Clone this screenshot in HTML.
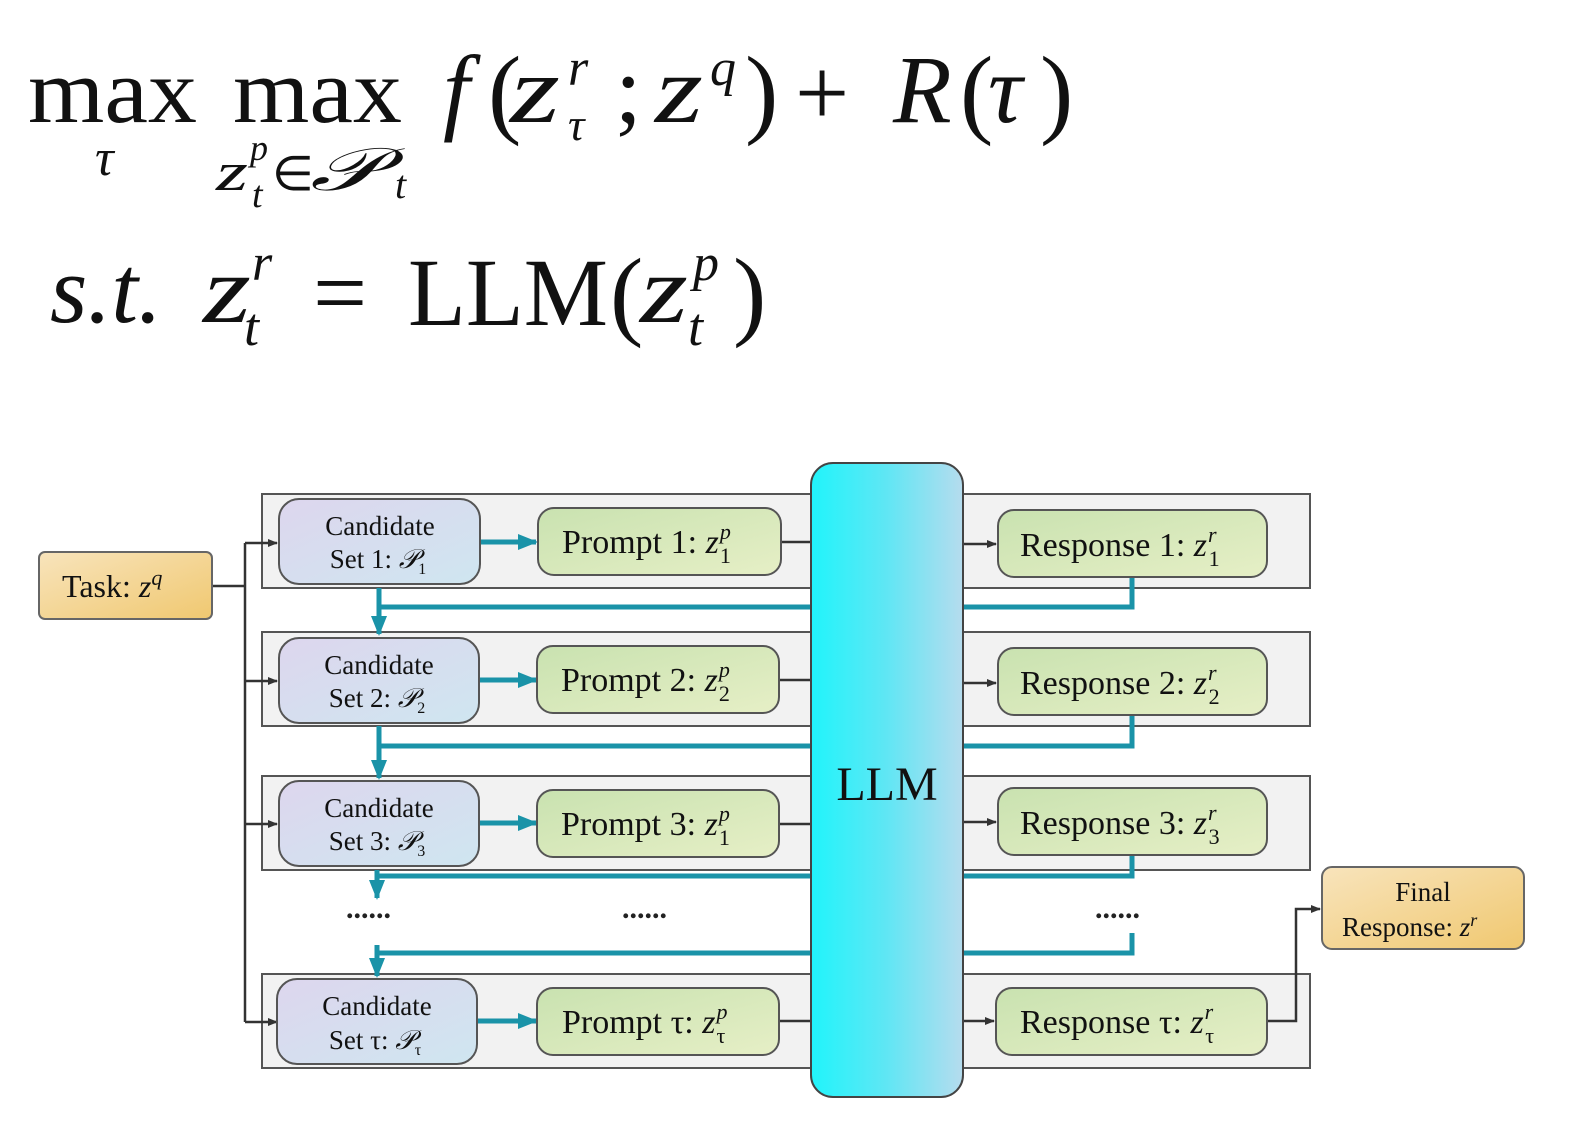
<!DOCTYPE html>
<html><head><meta charset="utf-8"><style>
html,body{margin:0;padding:0;background:#fff;}
svg{display:block;}
</style></head><body>
<svg width="1586" height="1130" viewBox="0 0 1586 1130" xmlns="http://www.w3.org/2000/svg" font-family="Liberation Serif, serif">
<defs>
<linearGradient id="cand" x1="0" y1="0" x2="1" y2="1"><stop offset="0" stop-color="#ddd6ee"/><stop offset="1" stop-color="#cfe6f0"/></linearGradient>
<linearGradient id="pr" x1="0" y1="0" x2="1" y2="1"><stop offset="0" stop-color="#c9e2b0"/><stop offset="1" stop-color="#e6efc6"/></linearGradient>
<linearGradient id="task" x1="0" y1="0" x2="1" y2="1"><stop offset="0" stop-color="#f8e4bc"/><stop offset="1" stop-color="#f0c870"/></linearGradient>
<linearGradient id="llm" x1="0" y1="0" x2="1" y2="0"><stop offset="0" stop-color="#20f4fb"/><stop offset="0.5" stop-color="#60e6f4"/><stop offset="1" stop-color="#b6dcee"/></linearGradient>
<marker id="ak" markerWidth="10" markerHeight="8" refX="9" refY="4" orient="auto" markerUnits="userSpaceOnUse"><path d="M0,0 L10,4 L0,8 z" fill="#333"/></marker>
<marker id="at" markerWidth="20" markerHeight="16" refX="18" refY="8" orient="auto" markerUnits="userSpaceOnUse"><path d="M0,0 L20,8 L0,16 z" fill="#1a93a8"/></marker>
</defs>

<!-- formulas -->
<g fill="#111">
<text x="28" y="122" font-size="92" textLength="169" lengthAdjust="spacingAndGlyphs">max</text>
<text x="233" y="122" font-size="92" textLength="169" lengthAdjust="spacingAndGlyphs">max</text>
<text x="95" y="175" font-size="52" font-style="italic">τ</text>
<text x="216" y="190" font-size="54" font-style="italic" textLength="32" lengthAdjust="spacingAndGlyphs">z</text>
<text x="250" y="160" font-size="36" font-style="italic">p</text>
<text x="252" y="207" font-size="38" font-style="italic">t</text>
<text x="272" y="190" font-size="48">∈</text>
<text x="310" y="190" font-size="60" font-style="italic" textLength="70" lengthAdjust="spacingAndGlyphs">𝒫</text>
<text x="395" y="198" font-size="40" font-style="italic">t</text>
<text x="443" y="122" font-size="96" font-style="italic">f</text>
<text x="488" y="125" font-size="100">(</text>
<text x="510" y="122" font-size="96" font-style="italic" textLength="50" lengthAdjust="spacingAndGlyphs">z</text>
<text x="568" y="85" font-size="52" font-style="italic">r</text>
<text x="568" y="140" font-size="46" font-style="italic">τ</text>
<text x="615" y="122" font-size="96">;</text>
<text x="655" y="122" font-size="96" font-style="italic" textLength="48" lengthAdjust="spacingAndGlyphs">z</text>
<text x="710" y="85" font-size="52" font-style="italic">q</text>
<text x="745" y="125" font-size="100">)</text>
<text x="795" y="125" font-size="96">+</text>
<text x="893" y="122" font-size="96" font-style="italic">R</text>
<text x="960" y="125" font-size="100">(</text>
<text x="988" y="122" font-size="96" font-style="italic">τ</text>
<text x="1040" y="125" font-size="100">)</text>

<text x="50" y="322" font-size="96" font-style="italic">s.t.</text>
<text x="203" y="322" font-size="96" font-style="italic" textLength="48" lengthAdjust="spacingAndGlyphs">z</text>
<text x="252" y="280" font-size="52" font-style="italic">r</text>
<text x="244" y="345" font-size="54" font-style="italic">t</text>
<text x="313" y="325" font-size="96">=</text>
<text x="408" y="325" font-size="96" textLength="200" lengthAdjust="spacingAndGlyphs">LLM</text>
<text x="610" y="327" font-size="100">(</text>
<text x="640" y="322" font-size="96" font-style="italic" textLength="48" lengthAdjust="spacingAndGlyphs">z</text>
<text x="693" y="280" font-size="52" font-style="italic">p</text>
<text x="688" y="345" font-size="54" font-style="italic">t</text>
<text x="733" y="327" font-size="100">)</text>
</g>

<!-- row panels -->
<g fill="#f2f2f2" stroke="#555" stroke-width="2">
<rect x="262" y="494" width="1048" height="94"/>
<rect x="262" y="632" width="1048" height="94"/>
<rect x="262" y="776" width="1048" height="94"/>
<rect x="262" y="974" width="1048" height="94"/>
</g>

<!-- black connectors -->
<g stroke="#333" stroke-width="2.5" fill="none">
<path d="M212,586 H245"/>
<path d="M245,543 V1022"/>
<path d="M245,543 H277" marker-end="url(#ak)"/>
<path d="M245,681 H277" marker-end="url(#ak)"/>
<path d="M245,824 H277" marker-end="url(#ak)"/>
<path d="M245,1022 H277" marker-end="url(#ak)"/>
<path d="M781,542 H811"/><path d="M779,680 H811"/><path d="M779,824 H811"/><path d="M779,1021 H811"/>
<path d="M963,544 H996" marker-end="url(#ak)"/>
<path d="M963,683 H996" marker-end="url(#ak)"/>
<path d="M963,822 H996" marker-end="url(#ak)"/>
<path d="M963,1021 H994" marker-end="url(#ak)"/>
<path d="M1267,1021 H1296 V909 H1320" marker-end="url(#ak)"/>
</g>

<!-- teal connectors -->
<g stroke="#1a93a8" stroke-width="5" fill="none">
<path d="M480,542 H536" marker-end="url(#at)"/>
<path d="M479,680 H536" marker-end="url(#at)"/>
<path d="M479,823 H536" marker-end="url(#at)"/>
<path d="M477,1021 H536" marker-end="url(#at)"/>
<path d="M379,588 V634" marker-end="url(#at)"/>
<path d="M379,607 H811"/>
<path d="M963,607 H1132 V577"/>
<path d="M379,726 V778" marker-end="url(#at)"/>
<path d="M379,746 H811"/>
<path d="M963,746 H1132 V715"/>
<path d="M377,870 V898" marker-end="url(#at)"/>
<path d="M377,876 H811"/>
<path d="M963,876 H1132 V856"/>
<path d="M377,945 V976" marker-end="url(#at)"/>
<path d="M377,953 H811"/>
<path d="M963,953 H1132 V933"/>
</g>

<!-- dots -->
<g font-size="30" fill="#222" font-weight="bold">
<text x="346" y="918">......</text>
<text x="622" y="918">......</text>
<text x="1095" y="918">......</text>
</g>

<!-- task -->
<rect x="39" y="552" width="173" height="67" rx="6" fill="url(#task)" stroke="#666" stroke-width="2"/>
<text x="62" y="597" font-size="32" fill="#111">Task: <tspan font-style="italic">z</tspan><tspan font-size="22" dy="-12" font-style="italic">q</tspan></text>

<!-- final -->
<rect x="1322" y="867" width="202" height="82" rx="10" fill="url(#task)" stroke="#666" stroke-width="2"/>
<text x="1423" y="901" font-size="27" text-anchor="middle" fill="#111">Final</text>
<text x="1342" y="936" font-size="27" fill="#111">Response: <tspan font-style="italic">z</tspan><tspan font-size="18" dy="-10" font-style="italic">r</tspan></text>

<!-- candidates -->
<g stroke="#555" stroke-width="2" fill="url(#cand)">
<rect x="279" y="499" width="201" height="85" rx="20"/>
<rect x="279" y="638" width="200" height="85" rx="20"/>
<rect x="279" y="781" width="200" height="85" rx="20"/>
<rect x="277" y="979" width="200" height="85" rx="20"/>
</g>
<g font-size="27" fill="#111" text-anchor="middle">
<text x="380" y="535">Candidate</text><text x="378" y="568">Set 1: <tspan font-style="italic">𝒫</tspan><tspan font-size="16" dy="6">1</tspan></text>
<text x="379" y="674">Candidate</text><text x="377" y="707">Set 2: <tspan font-style="italic">𝒫</tspan><tspan font-size="16" dy="6">2</tspan></text>
<text x="379" y="817">Candidate</text><text x="377" y="850">Set 3: <tspan font-style="italic">𝒫</tspan><tspan font-size="16" dy="6">3</tspan></text>
<text x="377" y="1015">Candidate</text><text x="375" y="1049">Set τ: <tspan font-style="italic">𝒫</tspan><tspan font-size="16" dy="6">τ</tspan></text>
</g>

<!-- prompts -->
<g stroke="#555" stroke-width="2" fill="url(#pr)">
<rect x="538" y="508" width="243" height="67" rx="16"/>
<rect x="537" y="646" width="242" height="67" rx="16"/>
<rect x="537" y="790" width="242" height="67" rx="16"/>
<rect x="537" y="988" width="242" height="67" rx="16"/>
<rect x="998" y="510" width="269" height="67" rx="16"/>
<rect x="998" y="648" width="269" height="67" rx="16"/>
<rect x="998" y="788" width="269" height="67" rx="16"/>
<rect x="996" y="988" width="271" height="67" rx="16"/>
</g>
<g font-size="34" fill="#111">
<text x="562" y="553">Prompt 1: <tspan font-style="italic">z</tspan><tspan font-size="22" font-style="italic" dx="1" dy="-14">p</tspan><tspan font-size="22" dx="-11" dy="24">1</tspan></text>
<text x="561" y="691">Prompt 2: <tspan font-style="italic">z</tspan><tspan font-size="22" font-style="italic" dx="1" dy="-14">p</tspan><tspan font-size="22" dx="-11" dy="24">2</tspan></text>
<text x="561" y="835">Prompt 3: <tspan font-style="italic">z</tspan><tspan font-size="22" font-style="italic" dx="1" dy="-14">p</tspan><tspan font-size="22" dx="-11" dy="24">1</tspan></text>
<text x="562" y="1033">Prompt τ: <tspan font-style="italic">z</tspan><tspan font-size="22" font-style="italic" dx="1" dy="-14">p</tspan><tspan font-size="22" dx="-11" dy="24">τ</tspan></text>
<text x="1020" y="556">Response 1: <tspan font-style="italic">z</tspan><tspan font-size="22" font-style="italic" dx="1" dy="-14">r</tspan><tspan font-size="22" dx="-8" dy="24">1</tspan></text>
<text x="1020" y="694">Response 2: <tspan font-style="italic">z</tspan><tspan font-size="22" font-style="italic" dx="1" dy="-14">r</tspan><tspan font-size="22" dx="-8" dy="24">2</tspan></text>
<text x="1020" y="834">Response 3: <tspan font-style="italic">z</tspan><tspan font-size="22" font-style="italic" dx="1" dy="-14">r</tspan><tspan font-size="22" dx="-8" dy="24">3</tspan></text>
<text x="1020" y="1033">Response τ: <tspan font-style="italic">z</tspan><tspan font-size="22" font-style="italic" dx="1" dy="-14">r</tspan><tspan font-size="22" dx="-8" dy="24">τ</tspan></text>
</g>

<!-- LLM -->
<rect x="811" y="463" width="152" height="634" rx="22" fill="url(#llm)" stroke="#444" stroke-width="2"/>
<text x="887" y="800" font-size="48" text-anchor="middle" fill="#111">LLM</text>
</svg>
</body></html>
